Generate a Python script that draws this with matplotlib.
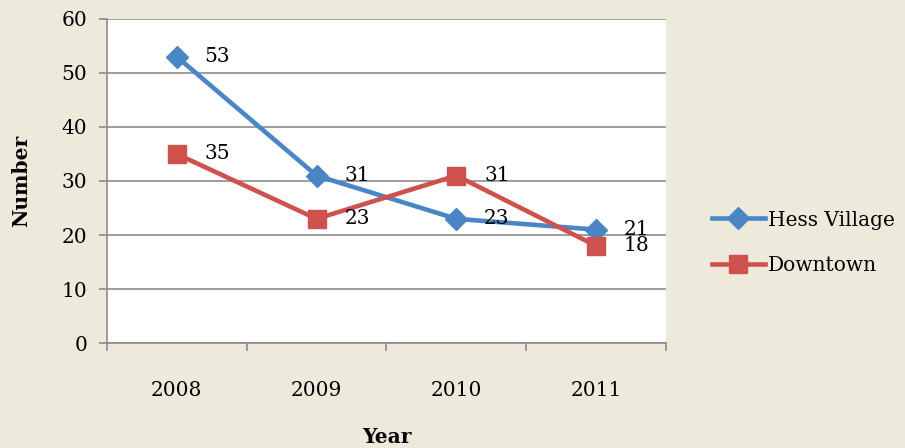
import matplotlib.pyplot as plt
import numpy as np

years = ["2008", "2009", "2010", "2011"]
hess_village = [53, 31, 23, 21]
downtown = [35, 23, 31, 18]

bg = "#EEEADB"
plt.rcParams["font.family"] = ["DejaVu Serif"]
fs = 14.5

fig = plt.figure(figsize=(9.05, 4.48), dpi=100, facecolor=bg)
ax = fig.add_axes([0.118, 0.234, 0.618, 0.724])
ax.set_facecolor("white")

x = np.arange(len(years))
ax.plot(x, hess_village, color="#4A86C6", lw=3.3, marker="D", ms=11,
        label="Hess Village", zorder=3)
ax.plot(x, downtown, color="#CF514E", lw=3.3, marker="s", ms=13,
        label="Downtown", zorder=4)

# value labels to the right of each point
for xi, v in zip(x, hess_village):
    ax.annotate(str(v), (xi, v), xytext=(20, 0), textcoords="offset points",
                va="center", ha="left", fontsize=fs, zorder=5)
for xi, v in zip(x, downtown):
    ax.annotate(str(v), (xi, v), xytext=(20, 0), textcoords="offset points",
                va="center", ha="left", fontsize=fs, zorder=5)

ax.set_xlim(-0.5, len(years) - 0.5)
ax.set_ylim(0, 60)
ax.set_yticks(range(0, 61, 10))
ax.yaxis.grid(True, color="#8C8C8C", lw=1.2)
ax.set_axisbelow(True)

ax.set_xticks(x)
ax.set_xticklabels(years)
ax.set_xticks(np.arange(-0.5, len(years)), minor=True)
ax.tick_params(axis="x", which="major", length=0, pad=27, labelsize=fs)
ax.tick_params(axis="x", which="minor", length=6, color="#8C8C8C", width=1.2)
ax.tick_params(axis="y", length=6, color="#8C8C8C", width=1.2, labelsize=fs, pad=8)

for side in ["top", "right"]:
    ax.spines[side].set_visible(False)
for side in ["left", "bottom"]:
    ax.spines[side].set_color("#8C8C8C")
    ax.spines[side].set_linewidth(1.2)

ax.set_xlabel("Year", fontsize=fs, fontweight="bold", labelpad=20)
ax.set_ylabel("Number", fontsize=fs, fontweight="bold", labelpad=22)

leg = ax.legend(loc="center left", bbox_to_anchor=(1.05, 0.31), frameon=False,
                fontsize=fs, handlelength=2.6, labelspacing=1.3,
                handletextpad=0.15)

fig.savefig("out.png", dpi=100, facecolor=bg)
